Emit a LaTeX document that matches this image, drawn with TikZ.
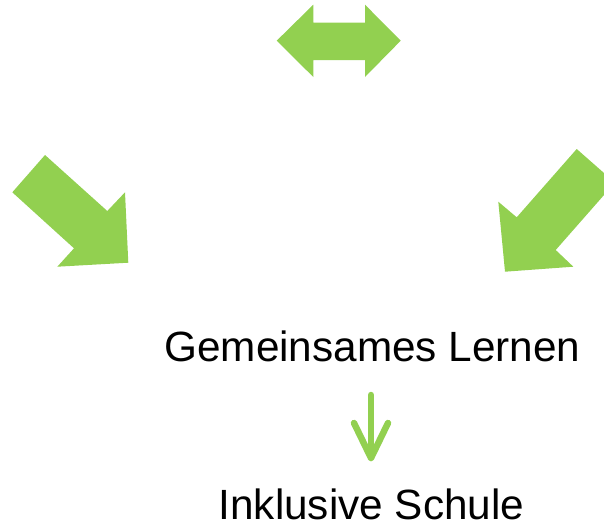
\documentclass[tikz,border=0pt]{standalone}
\usepackage{fontspec}
\setmainfont{Liberation Sans}
\usepackage{tikz}
\definecolor{arrowgreen}{RGB}{146,208,80}

\begin{document}
\begin{tikzpicture}[x=1pt, y=-1pt,
	blockarrow/.style = {fill = arrowgreen, draw = none},
	label/.style = {anchor = base, font = \fontsize{42.3}{50}\selectfont, inner sep = 0pt}]
\useasboundingbox (0,0) rectangle (604,522);
\clip (0,0) rectangle (604,522);

% double arrow on top
\fill[blockarrow] (276.7,40.7) -- (313.3,4.7) -- (313.3,22.7) -- (365,22.7) -- (365,4.7)
	-- (400.7,40.7) -- (365,77) -- (365,60) -- (313.3,60) -- (313.3,77) -- cycle;

% the two slanted arrows
\fill[blockarrow] (45,155) -- (107.3,211) -- (125,192.3) -- (128.3,262.7) -- (57.3,266.7)
	-- (74,248.3) -- (12.3,192.3) -- cycle;
\fill[blockarrow] (576.7,149) -- (614.9,182.6) -- (555.7,250) -- (573.3,266.7) -- (505,271.7)
	-- (498.3,201.7) -- (516.7,217.3) -- cycle;

\node[label] (gl) at (372.5,361) {Gemeinsames Lernen};
\node[label] (ik) at (371.4,519.5) {Inklusive Schule};

\coordinate (from) at (371,395);
\coordinate (to) at (371,458);
\draw[arrowgreen, line width = 6.5pt, line cap = round, line join = round] (from) -- (to);
\draw[arrowgreen, line width = 6.5pt, line cap = round, line join = round]
	(to) ++(-17,-35) -- (to) -- ++(17,-35);
\end{tikzpicture}
\end{document}
